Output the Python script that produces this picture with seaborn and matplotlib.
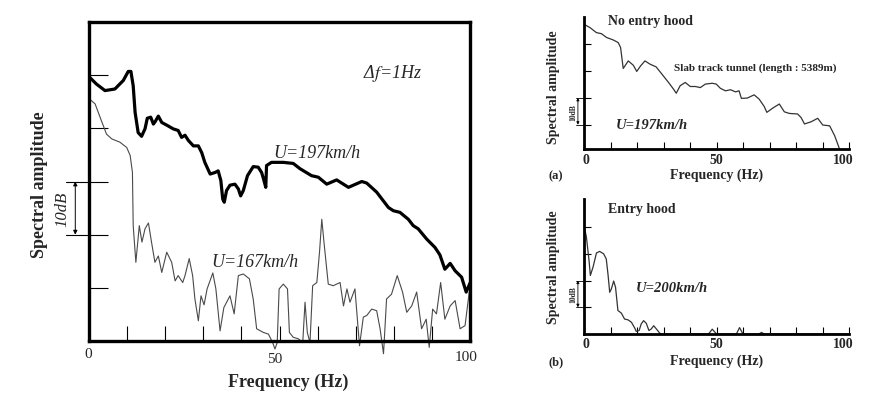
import matplotlib
matplotlib.use("Agg")
import matplotlib.pyplot as plt
import seaborn as sns
import pandas as pd
import numpy as np

# ---------------- data ----------------
# Main panel, U=197 km/h (thick)
f197 = [0, 2, 4.2, 6.8, 9, 10.3, 11, 11.6, 12.1, 12.9, 13.8, 14.7, 15.3, 16.2, 16.9, 17.4, 18.2, 19.1,
        20.4, 22.1, 23.4, 24.3, 25.2, 26.1, 27.4, 28.7, 29.6, 30.4, 31.8, 33.1, 33.9, 34.6, 35.1, 35.5,
        36.1, 37, 38.3, 39.2, 39.8, 40.5, 41.6, 43.1, 44.4, 45.3, 45.8, 46.4, 46.6, 47.9, 51, 53.6,
        55.4, 58.4, 60.2, 62.4, 65, 68.1, 71.6, 72.9, 75.5, 78.6, 79.9, 81.6, 83.8, 85.1, 86.4, 88.6,
        90.8, 92.1, 93.4, 94.8, 96.1, 97.8, 99, 100]
a197 = [49.7, 48.3, 47.1, 47.4, 49, 50.7, 50.7, 48, 43, 39.2, 38.5, 39.9, 41.9, 42.1, 40.8, 41.3, 42.3, 41.1,
        40.6, 39.9, 39.6, 38.3, 38.7, 37.7, 36.7, 36.7, 35.4, 33.6, 31.4, 31.7, 32, 30.2, 26.7, 26.1,
        28.3, 29.3, 29.5, 28.6, 27.3, 28.3, 31.1, 32.8, 32.7, 31.7, 30.5, 28.9, 33, 33.6, 33.6, 33.4,
        32.4, 31.1, 30.8, 29.5, 30.3, 28.9, 30, 29.7, 28, 25.1, 24.5, 24.2, 22.9, 21.7, 21.1, 19.2,
        17.6, 16.2, 13.5, 14.6, 13.2, 12, 9.2, 10.9]

# Main panel, U=167 km/h (thin)
f167 = [0, 1.6, 2.9, 4.6, 6, 8.1, 9.9, 10.8, 11.4, 11.6, 12.3, 13.2, 13.9, 14.7, 15.6, 16.5, 17.3, 18.2,
        19.1, 20.4, 21.7, 22.6, 23.4, 24.6, 25.2, 26.3, 27.2, 27.8, 28.7, 29.4, 30.2, 31, 32.5, 33.3,
        34.4, 35.4, 37, 38.1, 39.2, 40.5, 42.1, 43.1, 44, 45.8, 47.1, 48.2, 48.8, 49.4, 49.9, 51, 52.1,
        52.6, 53.6, 55, 56.1, 56.7, 57.3, 58, 58.7, 59.8, 60.5, 61.1, 61.7, 62.8, 64.1, 65.9, 66.8,
        67.7, 68.5, 69.8, 71, 72, 72.9, 74.2, 75.5, 76.4, 77.3, 78.1, 79.4, 80.9, 82.3, 83.4, 84.7,
        86, 87.3, 88.5, 89.3, 90.2, 91.2, 92.3, 93.4, 94.8, 96.1, 97.4, 98.7, 99.8]
a167 = [45.6, 44.6, 42.1, 38.9, 38, 37.4, 36.4, 34.9, 31.7, 21.7, 14.8, 21.7, 18.6, 21.1, 22.2, 18.2, 14.8, 16,
        12.9, 16.7, 14.8, 11.3, 12.3, 11, 12.3, 15.5, 12.3, 7.9, 3.8, 8.5, 6.8, 9.8, 12.8, 9.8,
        1.9, 6.3, 8.5, 5.1, 12.3, 12.6, 11.7, 7.9, 2.3, 1.6, 1.3, -0.3, -1.5, -0.3, 9.8, 10.7, 9.8,
        1.6, 0.7, 0.4, -0.3, 7.3, 1.6, -0.3, 10.4, 11, 16.7, 22.9, 18.4, 10.7, 10.4, 11, 6.6,
        9.8, 7.3, 9.8, -0.9, 4.5, 4.8, 6, 5.7, 2.3, -2.4, 7.9, 8.8, 12.3, 9.2, 5.4, 6.6,
        9.2, 2.3, 4.1, -1.2, 6, 5.1, 11, 4.1, 6.6, 7.6, 2.3, 2.9, 9.2]

# Panel (a): no entry hood, U=197 km/h
fa = [0, 2.2, 4.7, 6.6, 8.5, 11, 12.9, 13.8, 14.8, 16.7, 18.6, 19.9, 21.4, 23, 24.9, 27.2, 29.4, 31.9,
      33.8, 34.8, 36.3, 38.2, 40.1, 42, 43.9, 45.8, 48.4, 49.9, 51.5, 53.4, 55.3, 57.2, 58.5, 59.4,
      61.6, 64.2, 66.1, 68, 69, 71.1, 73.7, 75.6, 77.5, 80.6, 81.9, 83.2, 85.7, 88.2, 90.1, 92.7,
      94.6, 96.5]
aa = [47.3, 46.1, 44.2, 43.8, 42.4, 41.5, 40.5, 38.7, 30.9, 33.7, 32.1, 29.8, 31.9, 33.7, 32.5, 31.5, 28.8, 25.7,
      23.2, 21.7, 24.5, 25.7, 24.2, 24.2, 23.8, 25.1, 25.4, 25.1, 23.5, 22.6, 23, 22.2, 22.6, 19.8,
      19.9, 21.1, 19.5, 16.8, 14.6, 16.1, 17.7, 14.8, 14.2, 14, 12.7, 10.3, 11.1, 12.4, 9.9, 9.6,
      5.9, 0.8]

# Panel (b): entry hood, U=200 km/h
fb = [0, 0.9, 1.9, 2.4, 3.4, 4.7, 5.9, 7.4, 8.4, 9.1, 9.7, 10.3, 11.2, 11.9, 12.8, 14.1, 15.3, 16.6, 17.9,
      19.1, 19.7, 20.8, 21.6, 22.5, 23.5, 24.5, 25.4, 26.3, 27.3, 28.6, 29.2, 47, 48.4, 50, 57.5,
      58.7, 60, 66, 67, 68, 100]
ab = [40.6, 36.3, 27.5, 21.9, 25, 30.3, 30.9, 30, 28.1, 21.9, 15.6, 16.8, 19.8, 17.5, 8.8, 7.8, 5.6, 5.3, 4.4,
      2.3, 1, 1.3, 3.8, 5, 4, 1.3, 1.9, 3.1, 1.9, 0.3, 0, 0, 1.8, 0, 0, 2.4, 0, 0, 0.6, 0, 0]

xticks = list(range(0, 101, 10))

# ---------------- style ----------------
sns.set_style("white")
plt.rcParams["font.family"] = ["Liberation Serif", "DejaVu Serif"]
plt.rcParams["mathtext.fontset"] = "stix"

W, H = 885, 406
fig = plt.figure(figsize=(W / 100, H / 100), dpi=100)


def rect(x0, y0, x1, y1):
    return [x0 / W, 1 - y1 / H, (x1 - x0) / W, (y1 - y0) / H]


def ftext(x, y, s, **kw):
    fig.text(x / W, 1 - y / H, s, **kw)


# ---------------- main panel ----------------
ax = fig.add_axes(rect(89, 23, 470, 342))
sns.lineplot(x=f197, y=a197, ax=ax, color="black", linewidth=2.3, sort=False)
sns.lineplot(x=f167, y=a167, ax=ax, color="#4a4a4a", linewidth=0.8, sort=False)
ax.lines[-1].set_clip_on(False)
ax.set_xlim(0, 100)
ax.set_ylim(0, 60)
for s in ax.spines.values():
    s.set_linewidth(2.4)
    s.set_color("black")
ax.set_xticks(xticks)
ax.set_xticklabels([])
ax.set_yticks([10, 20, 30, 40, 50])
ax.set_yticklabels([])
ax.tick_params(axis="x", direction="in", length=11, width=0.8, color="black", bottom=True)
ax.tick_params(axis="y", direction="in", length=14, width=0.8, color="black", left=True)

# 10 dB scale bar left of the axis
for yv in (20, 30):
    ax.plot([-6.0, 0], [yv, yv], color="black", lw=0.8, clip_on=False)
ax.annotate("", xy=(-3.6, 20), xytext=(-3.6, 30), xycoords="data",
            arrowprops=dict(arrowstyle="<|-|>", color="black", lw=0.7,
                            mutation_scale=6, shrinkA=0, shrinkB=0),
            annotation_clip=False)
ax.text(-6.9, 25, "10dB", rotation=90, ha="center", va="center", fontsize=12,
        style="italic", clip_on=False)

ax.text(72, 50.5, "Δ$f$=1Hz", fontsize=13, style="italic", ha="left", va="center")
ax.text(48.5, 35.5, "U=197km/h", fontsize=13, style="italic", ha="left", va="center")
ax.text(32, 15, "U=167km/h", fontsize=13, style="italic", ha="left", va="center")

ftext(88, 355, "0", fontsize=11, ha="center", va="center")
ftext(275, 360, "50", fontsize=11, ha="center", va="center")
ftext(466, 358, "100", fontsize=11, ha="center", va="center")
ftext(288, 382, "Frequency (Hz)", fontsize=13, fontweight="bold", ha="center", va="center")
ftext(40, 185, "Spectral amplitude", fontsize=13, fontweight="bold", ha="center", va="center",
      rotation=90)


# ---------------- right panels ----------------
def small_panel(r, x, y, ylim, tickvals, bar, letter, ylab_y, xlab_y, tick_y, letter_y):
    a = fig.add_axes(r)
    sns.lineplot(x=x, y=y, ax=a, color="#333333", linewidth=0.9, sort=False)
    a.set_xlim(0, 100)
    a.set_ylim(*ylim)
    for k in ("top", "right"):
        a.spines[k].set_visible(False)
    for k in ("left", "bottom"):
        a.spines[k].set_linewidth(2.0)
        a.spines[k].set_color("black")
    a.set_xticks(xticks)
    a.set_xticklabels([])
    a.set_yticks(tickvals)
    a.set_yticklabels([])
    a.tick_params(axis="x", direction="in", length=5, width=0.8, color="black", bottom=True)
    a.tick_params(axis="y", direction="in", length=5, width=0.8, color="black", left=True)
    # 10 dB bar
    a.annotate("", xy=(-2.3, bar[0]), xytext=(-2.3, bar[1]), xycoords="data",
               arrowprops=dict(arrowstyle="<|-|>", color="black", lw=0.6,
                               mutation_scale=4, shrinkA=0, shrinkB=0),
               annotation_clip=False)
    for yv in bar:
        a.plot([-3.2, 0], [yv, yv], color="black", lw=0.6, clip_on=False)
    a.text(-4.0, (bar[0] + bar[1]) / 2, "10dB", rotation=90, ha="center", va="center",
           fontsize=5.5, fontweight="bold", clip_on=False)
    ftext(586, tick_y, "0", fontsize=10, fontweight="bold", ha="center", va="center")
    ftext(716, tick_y, "50", fontsize=10, fontweight="bold", ha="center", va="center")
    ftext(843, tick_y, "100", fontsize=10, fontweight="bold", ha="center", va="center")
    ftext(717, xlab_y, "Frequency (Hz)", fontsize=10, fontweight="bold", ha="center", va="center")
    ftext(556, letter_y, letter, fontsize=9, fontweight="bold", ha="center", va="center")
    ftext(554, ylab_y, "Spectral amplitude", fontsize=10, fontweight="bold", ha="center",
          va="center", rotation=90)
    return a


axa = small_panel(rect(584, 18, 849, 150), fa, aa, (1, 50), [10, 20, 30, 40], (10, 20),
                  "(a)", 87, 175, 161, 176)
ftext(608, 22, "No entry hood", fontsize=10, fontweight="bold", ha="left", va="center")
ftext(674, 68, "Slab track tunnel (length : 5389m)", fontsize=8, fontweight="bold",
      ha="left", va="center")
ftext(616, 126, "U=197km/h", fontsize=10.5, style="italic", fontweight="bold",
      ha="left", va="center")

axb = small_panel(rect(584, 200, 849, 335), fb, ab, (0, 50.5), [10, 20, 30, 40], (10, 20),
                  "(b)", 267, 361, 345, 362)
ftext(608, 210, "Entry hood", fontsize=10, fontweight="bold", ha="left", va="center")
ftext(636, 289, "U=200km/h", fontsize=10.5, style="italic", fontweight="bold",
      ha="left", va="center")

fig.savefig("out.png", dpi=100)
